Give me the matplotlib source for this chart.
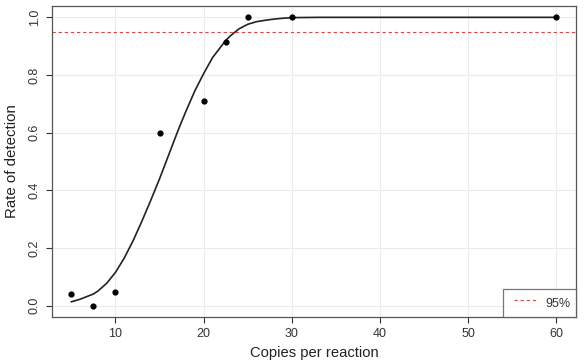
import matplotlib
matplotlib.use("Agg")
import matplotlib.pyplot as plt
from matplotlib.legend_handler import HandlerLine2D
from matplotlib.lines import Line2D

# Observed detection rates
copies = [5, 7.5, 10, 15, 20, 22.5, 25, 30, 60]
rate = [0.041, 0.0, 0.046, 0.60, 0.708, 0.916, 1.0, 1.0, 1.0]

# Fitted curve
curve_x = [5, 6, 7, 7.5, 8, 9, 10, 11, 12, 12.5, 13, 14, 15, 16, 17, 17.5, 18, 19,
           20, 21, 22, 22.5, 23, 24, 25, 26, 27, 28, 29, 30, 33, 60]
curve_y = [0.013, 0.022, 0.034, 0.040, 0.050, 0.077, 0.115, 0.165, 0.225, 0.259,
           0.293, 0.365, 0.44, 0.52, 0.60, 0.638, 0.675, 0.745, 0.805, 0.86, 0.90,
           0.92, 0.935, 0.96, 0.976, 0.985, 0.990, 0.994, 0.997, 0.999, 1.0, 1.0]

threshold = 0.95
xticks = [10, 20, 30, 40, 50, 60]
yticks = [0.0, 0.2, 0.4, 0.6, 0.8, 1.0]

plt.rcParams['font.family'] = ['Liberation Sans', 'DejaVu Sans']

fig = plt.figure(figsize=(5.86, 3.64), dpi=100)
ax = fig.add_axes([0.0887, 0.129, 0.894, 0.855])

for xv in xticks:
    ax.axvline(xv, color='#ececec', lw=0.8, zorder=0)
for yv in yticks:
    ax.axhline(yv, color='#ececec', lw=0.8, zorder=0)

ax.plot(curve_x, curve_y, color='#222222', lw=1.2, zorder=2)
ax.scatter(copies, rate, s=12, color='black', zorder=3)
thr_line = ax.axhline(threshold, color='#d84848', lw=0.8, ls=(0, (3, 2.5)), zorder=2, label='95%')

ax.set_xlim(2.8, 62.2)
ax.set_ylim(-0.04, 1.04)
ax.set_xticks(xticks)
ax.set_yticks(yticks)
ax.set_yticklabels([f"{v:.1f}" for v in yticks], rotation=90, va='center')
ax.tick_params(axis='both', labelsize=9, colors='#333333', length=4, width=0.8, direction='out')
ax.tick_params(axis='x', pad=4)
ax.tick_params(axis='y', pad=4)
for sp in ax.spines.values():
    sp.set_color('#555555')
    sp.set_linewidth(0.9)

ax.set_xlabel('Copies per reaction', fontsize=10.6, color='#222222', labelpad=4)
ax.set_ylabel('Rate of detection', fontsize=10.8, color='#222222', labelpad=7)

leg = ax.legend(handles=[thr_line], loc='lower right', borderaxespad=0, fontsize=9,
                fancybox=False, edgecolor='#555555', handlelength=2.24,
                handleheight=1.85, borderpad=0.4, handletextpad=0.8,
                handler_map={Line2D: HandlerLine2D(xpad=0.48)})
leg.get_frame().set_linewidth(0.9)
for t in leg.get_texts():
    t.set_color('#333333')

fig.savefig('out.png', dpi=100)
